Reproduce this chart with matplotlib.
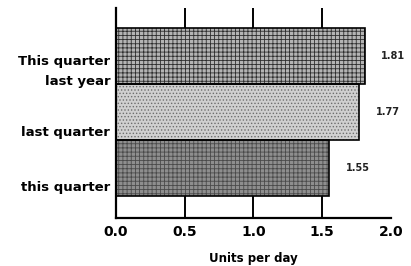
import numpy as np
import matplotlib.pyplot as plt

# Data (bottom to top)
labels = ['this quarter', 'last quarter', 'This quarter\nlast year']
values = [1.55, 1.77, 1.81]
value_text = ['1.55', '1.77', '1.81']
xticks = [0.0, 0.5, 1.0, 1.5, 2.0]

# Styles for each bar (bottom to top)
faces = ['#8e8e8e', '#d0d0d0', '#b4b4b4']
hatches = ['++++', '.....', '++++']
hatch_cols = ['#4a4a4a', '#6e6e6e', '#2e2e2e']
label_shift = [0.32, 0.33, 0.19]

fig = plt.figure(figsize=(4.11, 2.66), dpi=100)
ax = fig.add_axes([0.282, 0.180, 0.669, 0.790])

pos = np.arange(len(values))
plt.rcParams['hatch.linewidth'] = 0.6
for i in range(len(values)):
    ax.barh(pos[i], values[i], height=1.0, color=faces[i], hatch=hatches[i],
            edgecolor=hatch_cols[i], linewidth=0, zorder=2)
    ax.barh(pos[i], values[i], height=1.0, facecolor='none',
            edgecolor='black', linewidth=1.2, zorder=3)
    ax.text(values[i] + 0.12, pos[i], value_text[i], va='center', ha='left',
            fontsize=7, fontweight='bold', color='#222222')

ax.set_xlim(0, 2.0)
ax.set_ylim(-0.89, 2.86)
ax.set_xticks(xticks)
ax.set_xticklabels(['%.1f' % t for t in xticks], fontsize=10, fontweight='bold')
ax.set_yticks(pos - np.array(label_shift))
ax.set_yticklabels(labels, fontsize=9.5, fontweight='bold', ha='right',
                   linespacing=1.7)
ax.tick_params(axis='both', length=0, pad=4)
ax.tick_params(axis='x', pad=5)

ax.grid(axis='x', color='black', linewidth=1.4, zorder=1)
ax.set_axisbelow(True)
ax.get_xgridlines()[0].set_visible(False)
ax.get_xgridlines()[-1].set_visible(False)

for s in ['top', 'right']:
    ax.spines[s].set_visible(False)
ax.spines['left'].set_linewidth(1.6)
ax.spines['bottom'].set_linewidth(1.6)

ax.set_xlabel('Units per day', fontsize=8.5, fontweight='bold', labelpad=9)

plt.savefig('out.png', dpi=100)
